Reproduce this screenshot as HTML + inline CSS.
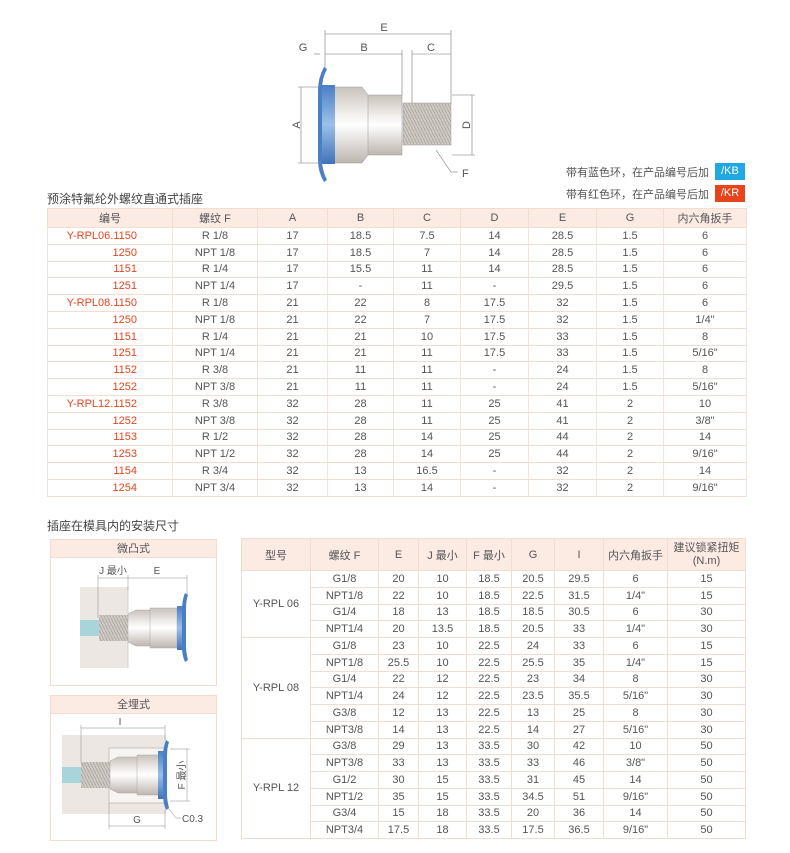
<!DOCTYPE html>
<html><head><meta charset="utf-8">
<style>
*{margin:0;padding:0;box-sizing:border-box}
body{width:790px;height:853px;background:#fff;position:relative;font-family:"Liberation Sans","Noto Sans CJK SC",sans-serif;color:#555;overflow:hidden}
.abs{position:absolute}
table{border-collapse:collapse;table-layout:fixed;position:absolute;font-size:11px}
td,th{text-align:center;font-weight:normal;border:1px solid #f3dcd0;padding:0;white-space:nowrap;overflow:hidden}
th{background:#fcebe3;color:#555}
.t1 td{border-left:1px solid #f6e4dc;border-right:1px solid #f6e4dc}
.rr{color:#e8441c;text-align:right;padding-right:35px}
.title{font-size:12px;color:#444}
.badge{position:absolute;color:#fff;font-size:11px;text-align:center;line-height:17px;width:30px;height:17px}
.box{position:absolute;border:1px solid #f3dcd0;background:#fff}
.boxh{height:18px;background:#fcebe3;text-align:center;font-size:11px;line-height:18px;color:#555;border-bottom:1px solid #f3dcd0}
</style></head><body>

<div class="box" style="left:50px;top:539px;width:167px;height:147px"><div class="boxh">微凸式</div></div>
<div class="box" style="left:50px;top:695px;width:167px;height:146px"><div class="boxh">全埋式</div></div>

<svg class="abs" style="left:0;top:0" width="790" height="853">
<defs>
<linearGradient id="met" x1="0" y1="0" x2="0" y2="1">
<stop offset="0" stop-color="#c9c2bd"/><stop offset="0.35" stop-color="#f2efec"/><stop offset="0.5" stop-color="#fff"/><stop offset="1" stop-color="#bdb5af"/></linearGradient>
<linearGradient id="blu" x1="0" y1="0" x2="0" y2="1">
<stop offset="0" stop-color="#4a7fc4"/><stop offset="0.5" stop-color="#9cc0ea"/><stop offset="1" stop-color="#3f73b8"/></linearGradient>
<pattern id="thr" width="3" height="6" patternUnits="userSpaceOnUse"><rect width="3" height="6" fill="#cfc9c4"/><line x1="0" y1="0" x2="3" y2="6" stroke="#a9a29c" stroke-width="0.8"/></pattern>
</defs>
<g stroke="#777" stroke-width="0.6" fill="none">
<line x1="325" y1="34" x2="451" y2="34"/><line x1="325" y1="30" x2="325" y2="70"/><line x1="451" y1="30" x2="451" y2="103"/>
<line x1="325" y1="54" x2="402" y2="54"/><line x1="402" y1="50" x2="402" y2="95"/>
<line x1="412" y1="54" x2="451" y2="54"/><line x1="412" y1="50" x2="412" y2="103"/>
<line x1="314" y1="54" x2="320" y2="54"/>
<line x1="301" y1="87" x2="301" y2="163"/><line x1="298" y1="87" x2="320" y2="87"/><line x1="298" y1="163" x2="320" y2="163"/>
<line x1="472" y1="95" x2="472" y2="155"/><line x1="452" y1="95" x2="475" y2="95"/><line x1="452" y1="155" x2="475" y2="155"/>
<polyline points="436,150 451,172 458,172"/>
</g>
<text x="384" y="31" font-size="11" fill="#555" text-anchor="middle" font-family="Liberation Sans">E</text>
<text x="364" y="51" font-size="11" fill="#555" text-anchor="middle" font-family="Liberation Sans">B</text>
<text x="431" y="51" font-size="11" fill="#555" text-anchor="middle" font-family="Liberation Sans">C</text>
<text x="303" y="51" font-size="11" fill="#555" text-anchor="middle" font-family="Liberation Sans">G</text>
<text x="296" y="129" font-size="11" fill="#555" text-anchor="middle" transform="rotate(-90 296 125)" font-family="Liberation Sans">A</text>
<text x="466" y="129" font-size="11" fill="#555" text-anchor="middle" transform="rotate(-90 466 125)" font-family="Liberation Sans">D</text>
<text x="462" y="177" font-size="11" fill="#555" font-family="Liberation Sans">F</text>
<rect x="403" y="103" width="48" height="42" fill="url(#thr)" stroke="#999" stroke-width="0.5"/>
<path d="M363 95 L402 95 L402 155 L363 155 Z" fill="url(#met)" stroke="#999" stroke-width="0.5"/>
<path d="M333 87 L362 87 L368 95 L368 155 L362 163 L333 163 Z" fill="url(#met)" stroke="#999" stroke-width="0.5"/>
<rect x="322" y="85" width="13" height="79" fill="url(#blu)"/>
<path d="M324 67 Q318 78 318 90 L318 160 Q318 172 324 182 L327 180 Q322 170 322 160 L322 90 Q322 78 327 69 Z" fill="#4b7fc4"/>
<g>
<rect x="80" y="587" width="48" height="81" fill="#ece7e3"/>
<line x1="128" y1="587" x2="128" y2="668" stroke="#bbb" stroke-width="0.6"/>
<rect x="80" y="620" width="22" height="16" fill="#a8d4dc"/>
<rect x="99" y="615" width="30" height="26" fill="url(#thr)"/>
<path d="M128 614 L136 610 L177 610 L177 646 L136 646 L128 642 Z" fill="url(#met)" stroke="#aaa" stroke-width="0.5"/>
<path d="M150 608 L177 608 L177 648 L150 648 Z" fill="url(#met)" stroke="#aaa" stroke-width="0.5"/>
<rect x="177" y="606" width="9" height="44" fill="url(#blu)"/>
<path d="M185 593 Q182 600 182 610 L182 646 Q182 656 185 662 L188 660 Q186 652 186 646 L186 610 Q186 600 188 595 Z" fill="#4b7fc4"/>
<g stroke="#888" stroke-width="0.5"><line x1="98" y1="575" x2="98" y2="618"/><line x1="128" y1="575" x2="128" y2="590"/><line x1="187" y1="575" x2="187" y2="595"/><line x1="98" y1="578" x2="187" y2="578"/></g>
<text x="113" y="574" font-size="10" fill="#555" text-anchor="middle" font-family="Liberation Sans,Noto Sans CJK SC">J 最小</text>
<text x="157" y="574" font-size="10" fill="#555" text-anchor="middle" font-family="Liberation Sans">E</text>
</g>
<g>
<rect x="62" y="735" width="104" height="79" fill="#ece7e3"/>
<rect x="109" y="748" width="57" height="55" fill="#f7f4f2" stroke="#999" stroke-width="0.5"/>
<rect x="62" y="767" width="22" height="16" fill="#a8d4dc"/>
<rect x="81" y="762" width="30" height="26" fill="url(#thr)"/>
<path d="M110 761 L118 757 L160 757 L160 793 L118 793 L110 789 Z" fill="url(#met)" stroke="#aaa" stroke-width="0.5"/>
<path d="M137 755 L160 755 L160 795 L137 795 Z" fill="url(#met)" stroke="#aaa" stroke-width="0.5"/>
<rect x="158" y="751" width="9" height="48" fill="url(#blu)"/>
<path d="M166 740 Q163 748 163 756 L163 794 Q163 803 166 810 L169 808 Q167 800 167 794 L167 756 Q167 748 169 742 Z" fill="#4b7fc4"/>
<g stroke="#888" stroke-width="0.5" fill="none"><line x1="81" y1="728" x2="165" y2="728"/><line x1="81" y1="725" x2="81" y2="762"/><line x1="165" y1="725" x2="165" y2="740"/>
<line x1="109" y1="826" x2="165" y2="826"/><line x1="109" y1="803" x2="109" y2="829"/><line x1="165" y1="810" x2="165" y2="829"/>
<line x1="187" y1="749" x2="187" y2="801"/><line x1="170" y1="749" x2="190" y2="749"/><line x1="170" y1="801" x2="190" y2="801"/>
<polyline points="166,805 176,818 181,818"/></g>
<text x="120" y="725" font-size="10" fill="#555" text-anchor="middle" font-family="Liberation Sans">I</text>
<text x="137" y="823" font-size="10" fill="#555" text-anchor="middle" font-family="Liberation Sans">G</text>
<text x="182" y="822" font-size="10" fill="#555" font-family="Liberation Sans">C0.3</text>
<text x="181" y="779" font-size="10" fill="#555" text-anchor="middle" transform="rotate(-90 181 775)" font-family="Liberation Sans,Noto Sans CJK SC">F 最小</text>
</g>
</svg>

<div class="abs" style="left:566px;top:164px;font-size:11px;color:#555">带有蓝色环，在产品编号后加</div>
<div class="badge" style="left:715px;top:163px;background:#1fa8e2">/KB</div>
<div class="abs" style="left:566px;top:186px;font-size:11px;color:#555">带有红色环，在产品编号后加</div>
<div class="badge" style="left:715px;top:185px;background:#e8441c">/KR</div>

<div class="abs title" style="left:47px;top:190px">预涂特氟纶外螺纹直通式插座</div>

<table class="t1" style="left:47px;top:208px;width:699px">
<colgroup><col style="width:125px"><col style="width:85px"><col style="width:70px"><col style="width:66px"><col style="width:67px"><col style="width:68px"><col style="width:68px"><col style="width:67px"><col style="width:83px"></colgroup>
<tr style="height:19px"><th>编号</th><th>螺纹 F</th><th>A</th><th>B</th><th>C</th><th>D</th><th>E</th><th>G</th><th>内六角扳手</th></tr>
<tr style="height:16.8px"><td class="rr">Y-RPL06.1150</td><td>R 1/8</td><td>17</td><td>18.5</td><td>7.5</td><td>14</td><td>28.5</td><td>1.5</td><td>6</td></tr>
<tr style="height:16.8px"><td class="rr">1250</td><td>NPT 1/8</td><td>17</td><td>18.5</td><td>7</td><td>14</td><td>28.5</td><td>1.5</td><td>6</td></tr>
<tr style="height:16.8px"><td class="rr">1151</td><td>R 1/4</td><td>17</td><td>15.5</td><td>11</td><td>14</td><td>28.5</td><td>1.5</td><td>6</td></tr>
<tr style="height:16.8px"><td class="rr">1251</td><td>NPT 1/4</td><td>17</td><td>-</td><td>11</td><td>-</td><td>29.5</td><td>1.5</td><td>6</td></tr>
<tr style="height:16.8px"><td class="rr">Y-RPL08.1150</td><td>R 1/8</td><td>21</td><td>22</td><td>8</td><td>17.5</td><td>32</td><td>1.5</td><td>6</td></tr>
<tr style="height:16.8px"><td class="rr">1250</td><td>NPT 1/8</td><td>21</td><td>22</td><td>7</td><td>17.5</td><td>32</td><td>1.5</td><td>1/4"</td></tr>
<tr style="height:16.8px"><td class="rr">1151</td><td>R 1/4</td><td>21</td><td>21</td><td>10</td><td>17.5</td><td>33</td><td>1.5</td><td>8</td></tr>
<tr style="height:16.8px"><td class="rr">1251</td><td>NPT 1/4</td><td>21</td><td>21</td><td>11</td><td>17.5</td><td>33</td><td>1.5</td><td>5/16"</td></tr>
<tr style="height:16.8px"><td class="rr">1152</td><td>R 3/8</td><td>21</td><td>11</td><td>11</td><td>-</td><td>24</td><td>1.5</td><td>8</td></tr>
<tr style="height:16.8px"><td class="rr">1252</td><td>NPT 3/8</td><td>21</td><td>11</td><td>11</td><td>-</td><td>24</td><td>1.5</td><td>5/16"</td></tr>
<tr style="height:16.8px"><td class="rr">Y-RPL12.1152</td><td>R 3/8</td><td>32</td><td>28</td><td>11</td><td>25</td><td>41</td><td>2</td><td>10</td></tr>
<tr style="height:16.8px"><td class="rr">1252</td><td>NPT 3/8</td><td>32</td><td>28</td><td>11</td><td>25</td><td>41</td><td>2</td><td>3/8"</td></tr>
<tr style="height:16.8px"><td class="rr">1153</td><td>R 1/2</td><td>32</td><td>28</td><td>14</td><td>25</td><td>44</td><td>2</td><td>14</td></tr>
<tr style="height:16.8px"><td class="rr">1253</td><td>NPT 1/2</td><td>32</td><td>28</td><td>14</td><td>25</td><td>44</td><td>2</td><td>9/16"</td></tr>
<tr style="height:16.8px"><td class="rr">1154</td><td>R 3/4</td><td>32</td><td>13</td><td>16.5</td><td>-</td><td>32</td><td>2</td><td>14</td></tr>
<tr style="height:16.8px"><td class="rr">1254</td><td>NPT 3/4</td><td>32</td><td>13</td><td>14</td><td>-</td><td>32</td><td>2</td><td>9/16"</td></tr>
</table>

<div class="abs title" style="left:47px;top:517px">插座在模具内的安装尺寸</div>

<table style="left:241px;top:538px;width:504px">
<colgroup><col style="width:69px"><col style="width:68px"><col style="width:40px"><col style="width:48px"><col style="width:45px"><col style="width:43px"><col style="width:49px"><col style="width:64px"><col style="width:78px"></colgroup>
<tr style="height:32px"><th>型号</th><th>螺纹 F</th><th>E</th><th>J 最小</th><th>F 最小</th><th>G</th><th>I</th><th>内六角扳手</th><th style="line-height:13px">建议锁紧扭矩<br>(N.m)</th></tr>
<tr style="height:16.75px"><td rowspan="4">Y-RPL 06</td><td>G1/8</td><td>20</td><td>10</td><td>18.5</td><td>20.5</td><td>29.5</td><td>6</td><td>15</td></tr>
<tr style="height:16.75px"><td>NPT1/8</td><td>22</td><td>10</td><td>18.5</td><td>22.5</td><td>31.5</td><td>1/4"</td><td>15</td></tr>
<tr style="height:16.75px"><td>G1/4</td><td>18</td><td>13</td><td>18.5</td><td>18.5</td><td>30.5</td><td>6</td><td>30</td></tr>
<tr style="height:16.75px"><td>NPT1/4</td><td>20</td><td>13.5</td><td>18.5</td><td>20.5</td><td>33</td><td>1/4"</td><td>30</td></tr>
<tr style="height:16.75px"><td rowspan="6">Y-RPL 08</td><td>G1/8</td><td>23</td><td>10</td><td>22.5</td><td>24</td><td>33</td><td>6</td><td>15</td></tr>
<tr style="height:16.75px"><td>NPT1/8</td><td>25.5</td><td>10</td><td>22.5</td><td>25.5</td><td>35</td><td>1/4"</td><td>15</td></tr>
<tr style="height:16.75px"><td>G1/4</td><td>22</td><td>12</td><td>22.5</td><td>23</td><td>34</td><td>8</td><td>30</td></tr>
<tr style="height:16.75px"><td>NPT1/4</td><td>24</td><td>12</td><td>22.5</td><td>23.5</td><td>35.5</td><td>5/16"</td><td>30</td></tr>
<tr style="height:16.75px"><td>G3/8</td><td>12</td><td>13</td><td>22.5</td><td>13</td><td>25</td><td>8</td><td>30</td></tr>
<tr style="height:16.75px"><td>NPT3/8</td><td>14</td><td>13</td><td>22.5</td><td>14</td><td>27</td><td>5/16"</td><td>30</td></tr>
<tr style="height:16.75px"><td rowspan="6">Y-RPL 12</td><td>G3/8</td><td>29</td><td>13</td><td>33.5</td><td>30</td><td>42</td><td>10</td><td>50</td></tr>
<tr style="height:16.75px"><td>NPT3/8</td><td>33</td><td>13</td><td>33.5</td><td>33</td><td>46</td><td>3/8"</td><td>50</td></tr>
<tr style="height:16.75px"><td>G1/2</td><td>30</td><td>15</td><td>33.5</td><td>31</td><td>45</td><td>14</td><td>50</td></tr>
<tr style="height:16.75px"><td>NPT1/2</td><td>35</td><td>15</td><td>33.5</td><td>34.5</td><td>51</td><td>9/16"</td><td>50</td></tr>
<tr style="height:16.75px"><td>G3/4</td><td>15</td><td>18</td><td>33.5</td><td>20</td><td>36</td><td>14</td><td>50</td></tr>
<tr style="height:16.75px"><td>NPT3/4</td><td>17.5</td><td>18</td><td>33.5</td><td>17.5</td><td>36.5</td><td>9/16"</td><td>50</td></tr>
</table>
</body></html>
